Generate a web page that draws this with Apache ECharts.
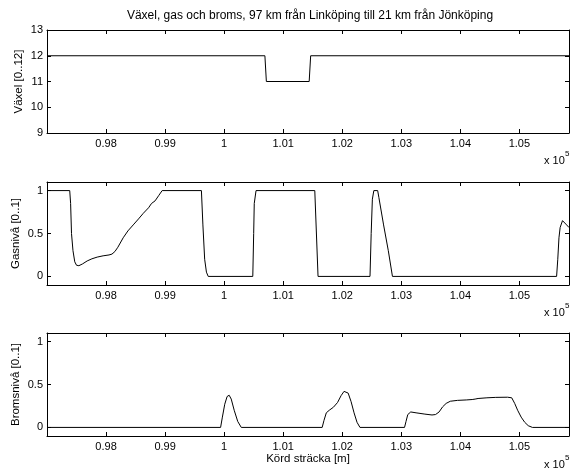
<!DOCTYPE html>
<html>
<head>
<meta charset="utf-8">
<script src="https://cdn.jsdelivr.net/npm/echarts@6/dist/echarts.min.js"></script>
<style>
  html, body { margin: 0; padding: 0; background: #fff; }
  #chart { width: 573px; height: 476px; }
</style>
</head>
<body>
<div id="chart"></div>
<script>
// Driven distance range [m]
const distMin = 97000;
const distMax = 105840;
const distTicks = [98000, 99000, 100000, 101000, 102000, 103000, 104000, 105000];

// Gear (Växel)
const gearDist = [97000, 100690, 100715, 101440, 101465, 105840];
const gearVal  = [12, 12, 11, 11, 12, 12];

// Throttle level (Gasnivå)
const gasDist = [
  97000, 97385, 97400, 97415, 97440, 97470, 97500, 97540, 97600, 97680, 97760,
  97850, 97950, 98050, 98100, 98150, 98200, 98290, 98370, 98460, 98550, 98630,
  98720, 98770, 98800, 98830, 98890, 98950,
  99615, 99640, 99670, 99700, 99730,
  100485, 100500, 100510, 100540,
  101535, 101590,
  102470, 102490, 102510, 102535, 102600, 102620, 102700, 102780, 102850,
  105630, 105650, 105670, 105690, 105730, 105800, 105840
];
const gasVal = [
  1, 1, 0.85, 0.5, 0.3, 0.17, 0.13, 0.125, 0.145, 0.18, 0.205,
  0.225, 0.24, 0.25, 0.26, 0.29, 0.34, 0.45, 0.53, 0.60, 0.67, 0.735,
  0.8, 0.85, 0.86, 0.88, 0.94, 1,
  1, 0.6, 0.2, 0.05, 0,
  0, 0.5, 0.85, 1,
  1, 0,
  0, 0.5, 0.9, 1, 1, 0.92, 0.6, 0.3, 0,
  0, 0.2, 0.45, 0.57, 0.65, 0.6, 0.57
];

// Brake level (Bromsnivå)
const brakeDist = [
  97000,
  99940, 99970, 100010, 100050, 100085, 100120, 100170, 100230, 100290,
  101660, 101690, 101730, 101780, 101850, 101920, 101980, 102030, 102060,
  102100, 102150, 102200, 102250, 102300,
  103055, 103080, 103110, 103160, 103250, 103400, 103520, 103580, 103640,
  103700, 103760, 103830, 103950, 104100, 104200, 104250, 104300, 104450,
  104600, 104800, 104870, 104920, 104970, 105030, 105090, 105150, 105220,
  105840
];
const brakeVal = [
  0,
  0, 0.12, 0.27, 0.36, 0.375, 0.33, 0.2, 0.07, 0,
  0, 0.08, 0.17, 0.2, 0.235, 0.29, 0.37, 0.42, 0.433,
  0.4, 0.3, 0.17, 0.06, 0,
  0, 0.07, 0.15, 0.18, 0.17, 0.155, 0.145, 0.15, 0.18,
  0.24, 0.28, 0.305, 0.315, 0.32, 0.325, 0.33, 0.337, 0.345,
  0.35, 0.352, 0.345, 0.28, 0.2, 0.12, 0.06, 0.02, 0,
  0
];

const levelTicks = [0, 0.5, 1];

const FONT = '"Liberation Sans", Arial, Helvetica, sans-serif';
const zip = (xs, ys) => xs.map((x, i) => [x, ys[i]]);

const grids = [
  { left: 47, top: 30,  width: 522, height: 103 },
  { left: 47, top: 182, width: 522, height: 103 },
  { left: 47, top: 333, width: 522, height: 103 }
];

const tickStyle = { inside: true, length: 4, lineStyle: { color: '#000', width: 1 } };
const lineStyle = { show: true, onZero: false, lineStyle: { color: '#000', width: 1 } };
const labelStyle = { color: '#000', fontSize: 11, fontFamily: FONT };
const nameStyle = { color: '#000', fontSize: 11.5, fontFamily: FONT };

const fmtDist = v => String(Number((v / 100000).toFixed(2)));

const xAxes = [];
const yAxes = [];
grids.forEach((g, i) => {
  xAxes.push({
    type: 'value', gridIndex: i, position: 'bottom', min: distMin, max: distMax,
    axisLine: lineStyle,
    axisTick: Object.assign({ customValues: distTicks }, tickStyle),
    axisLabel: Object.assign({ customValues: distTicks, margin: 5, formatter: fmtDist }, labelStyle),
    splitLine: { show: false },
    name: i === 2 ? 'Körd sträcka [m]' : '',
    nameLocation: 'middle', nameGap: 17, nameMoveOverlap: false,
    nameTextStyle: nameStyle
  });
  xAxes.push({
    type: 'value', gridIndex: i, position: 'top', min: distMin, max: distMax,
    axisLine: lineStyle,
    axisTick: Object.assign({ customValues: distTicks }, tickStyle),
    axisLabel: { show: false },
    splitLine: { show: false }
  });
});

const yNames = ['Växel [0..12]', 'Gasnivå [0..1]', 'Bromsnivå [0..1]'];
grids.forEach((g, i) => {
  const isGear = i === 0;
  const leftAxis = {
    type: 'value', gridIndex: i, position: 'left',
    min: isGear ? 9 : -0.1, max: isGear ? 13 : 1.1,
    axisLine: lineStyle,
    splitLine: { show: false },
    name: yNames[i], nameLocation: 'middle', nameGap: isGear ? 22 : 25,
    nameMoveOverlap: false,
    nameTextStyle: nameStyle
  };
  const rightAxis = {
    type: 'value', gridIndex: i, position: 'right',
    min: leftAxis.min, max: leftAxis.max,
    axisLine: lineStyle,
    splitLine: { show: false },
    axisLabel: { show: false }
  };
  if (isGear) {
    leftAxis.interval = 1;
    leftAxis.axisTick = Object.assign({}, tickStyle);
    leftAxis.axisLabel = Object.assign({ margin: 4 }, labelStyle);
    rightAxis.interval = 1;
    rightAxis.axisTick = Object.assign({}, tickStyle);
  } else {
    leftAxis.axisTick = Object.assign({ customValues: levelTicks }, tickStyle);
    leftAxis.axisLabel = Object.assign({ customValues: levelTicks, margin: 4 }, labelStyle);
    rightAxis.axisTick = Object.assign({ customValues: levelTicks }, tickStyle);
  }
  yAxes.push(leftAxis, rightAxis);
});

const mkSeries = (idx, data) => ({
  type: 'line', xAxisIndex: idx * 2, yAxisIndex: idx * 2,
  data: data, showSymbol: false, symbol: 'none',
  lineStyle: { color: '#000', width: 1 },
  silent: true, animation: false
});

// exponent markers under each axis
const expLabels = [161, 313, 465].map(y => [
  { type: 'text', x: 544, y: y, style: { text: 'x 10', font: '11px ' + FONT, fill: '#000', textVerticalAlign: 'middle' } },
  { type: 'text', x: 565, y: y - 7, style: { text: '5', font: '8px ' + FONT, fill: '#000', textVerticalAlign: 'middle' } }
]).flat();

const option = {
  backgroundColor: '#fff',
  animation: false,
  grid: grids,
  xAxis: xAxes,
  yAxis: yAxes,
  series: [
    mkSeries(0, zip(gearDist, gearVal)),
    mkSeries(1, zip(gasDist, gasVal)),
    mkSeries(2, zip(brakeDist, brakeVal))
  ],
  graphic: [
    { type: 'text', x: 310, y: 16,
      style: { text: 'Växel, gas och broms, 97 km från Linköping till 21 km från Jönköping',
               font: '12px ' + FONT, fill: '#000', textAlign: 'center', textVerticalAlign: 'middle' } }
  ].concat(expLabels)
};

const chart = echarts.init(document.getElementById('chart'), null, { renderer: 'canvas' });
chart.setOption(option);
</script>
</body>
</html>
